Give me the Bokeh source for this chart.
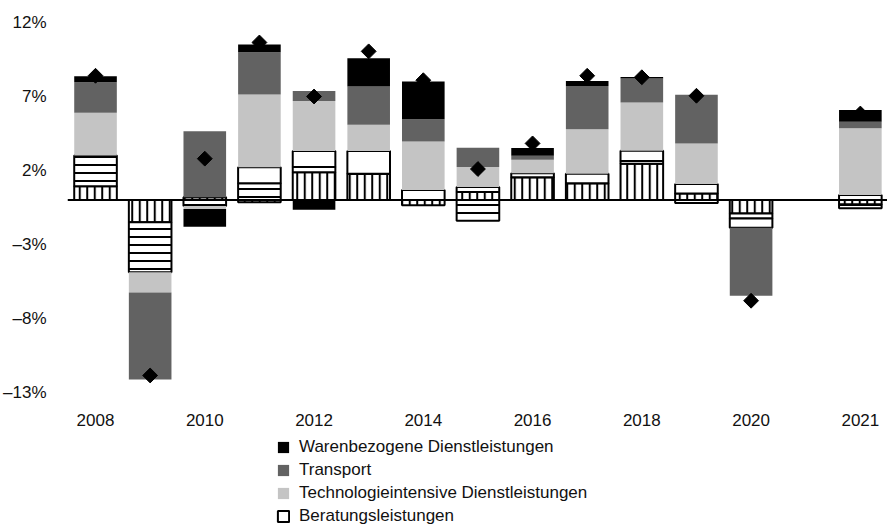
import numpy as np
from bokeh.plotting import figure
from bokeh.models import FixedTicker, Span, Legend, LegendItem, ColumnDataSource
from bokeh.embed import file_html
from bokeh.resources import INLINE

# ---- data -------------------------------------------------------------
slots = ["2008", "2009", "2010", "2011", "2012", "2013", "2014", "2015",
         "2016", "2017", "2018", "2019", "2020", "", "2021"]
years = [s for s in slots if s]

# contributions in percentage points (stack order bottom -> top)
vert_hatch = [0.94, -1.49, 0.20, -0.15, 1.89, 1.78, -0.35, 0.55, 1.55, 1.14, 2.45, 0.45, -0.90, -0.30]
horiz_hatch = [2.07, -3.38, -0.40, 1.14, 0.34, 0.00, 0.00, -1.40, 0.00, 0.00, 0.20, -0.20, -0.34, -0.25]
beratung = [0.00, 0.00, 0.00, 1.08, 1.08, 1.53, 0.68, 0.33, 0.27, 0.64, 0.68, 0.64, -0.63, 0.35]
technologie = [2.89, -1.37, -0.20, 4.91, 3.38, 1.78, 3.28, 1.35, 0.91, 3.00, 3.27, 2.74, 0.00, 4.50]
transport = [2.07, -5.88, 4.46, 2.86, 0.68, 2.59, 1.51, 1.31, 0.27, 2.93, 1.62, 3.29, -4.60, 0.45]
waren = [0.39, 0.00, -1.20, 0.52, -0.65, 1.91, 2.54, 0.00, 0.52, 0.34, 0.10, 0.00, 0.00, 0.79]
total = [8.40, -11.85, 2.80, 10.65, 7.00, 10.05, 8.10, 2.10, 3.83, 8.40, 8.30, 7.05, -6.80, 5.85]

y_ticks = [-13, -8, -3, 2, 7, 12]
y_tick_labels = ["\u201313%", "\u20138%", "\u20133%", "2%", "7%", "12%"]

legend_labels = {
    "waren": "Warenbezogene Dienstleistungen",
    "transport": "Transport",
    "technologie": "Technologieintensive Dienstleistungen",
    "beratung": "Beratungsleistungen",
}

# ---- build stacks -----------------------------------------------------
xpos = [slots.index(y) for y in years]
series = [
    ("vert", vert_hatch, dict(fill_color="white", line_color="black", line_width=2,
                              hatch_pattern="vertical_line", hatch_color="black",
                              hatch_weight=2, hatch_scale=7.5)),
    ("horiz", horiz_hatch, dict(fill_color="white", line_color="black", line_width=2,
                                hatch_pattern="horizontal_line", hatch_color="black",
                                hatch_weight=2, hatch_scale=8)),
    ("beratung", beratung, dict(fill_color="white", line_color="black", line_width=2)),
    ("technologie", technologie, dict(fill_color="#c4c4c4", line_color=None)),
    ("transport", transport, dict(fill_color="#626262", line_color=None)),
    ("waren", waren, dict(fill_color="#000000", line_color=None)),
]

FONT = "Liberation Sans"
Y_TOP = 12.946
Y_BOTTOM = Y_TOP - 519 / 14.8
X_LABEL_Y = -14.89  # vertical position of the category labels (below the value range)

p = figure(width=887, height=527, x_range=(-0.513, 14.497), y_range=(Y_BOTTOM, Y_TOP),
           output_backend="svg", toolbar_location=None,
           min_border_left=60, min_border_right=0, min_border_top=8, min_border_bottom=0)
p.xgrid.visible = False
p.ygrid.visible = False
p.xaxis.visible = False
p.outline_line_color = None
p.background_fill_color = "white"
p.border_fill_color = "white"

pos_base = np.zeros(len(years))
neg_base = np.zeros(len(years))
renderers = {}
for name, vals, style in series:
    v = np.array(vals, dtype=float)
    bottom = np.where(v >= 0, pos_base, neg_base)
    top = bottom + v
    pos_base = np.where(v >= 0, top, pos_base)
    neg_base = np.where(v < 0, top, neg_base)
    src = ColumnDataSource(dict(x=xpos, top=top, bottom=bottom))
    r = p.vbar(x="x", width=0.78, top="top", bottom="bottom", source=src, **style)
    renderers[name] = r

p.add_layout(Span(location=0, dimension="width", line_color="black", line_width=2))

p.scatter(xpos, total, marker="square", angle=np.pi / 4, size=10.5, color="black")

# category labels (every second slot)
lab_idx = list(range(0, len(slots), 2))
p.text(x=lab_idx, y=[X_LABEL_Y] * len(lab_idx), text=[slots[i] for i in lab_idx],
       text_align="center", text_baseline="middle", text_font_size="17px",
       text_color="#111111", text_font={"value": FONT})

# y axis
p.yaxis.ticker = FixedTicker(ticks=y_ticks)
p.yaxis.major_label_overrides = dict(zip(y_ticks, y_tick_labels))
p.yaxis.axis_line_color = None
p.yaxis.major_tick_line_color = None
p.yaxis.minor_tick_line_color = None
p.yaxis.major_label_text_font = FONT
p.yaxis.major_label_text_font_size = "17px"
p.yaxis.major_label_text_color = "#111111"
p.yaxis.major_label_standoff = 15

items = [LegendItem(label=legend_labels[k], renderers=[renderers[k]])
         for k in ["waren", "transport", "technologie", "beratung"]]
legend = Legend(items=items, location=(209, 1), orientation="vertical",
                glyph_width=14, glyph_height=14, label_height=16, spacing=3,
                padding=0, margin=0, label_standoff=9,
                label_text_font=FONT, label_text_font_size="17px",
                label_text_color="#111111",
                border_line_color=None, background_fill_alpha=0)
p.add_layout(legend, "center")

open("out.html", "w").write(file_html(p, INLINE))
